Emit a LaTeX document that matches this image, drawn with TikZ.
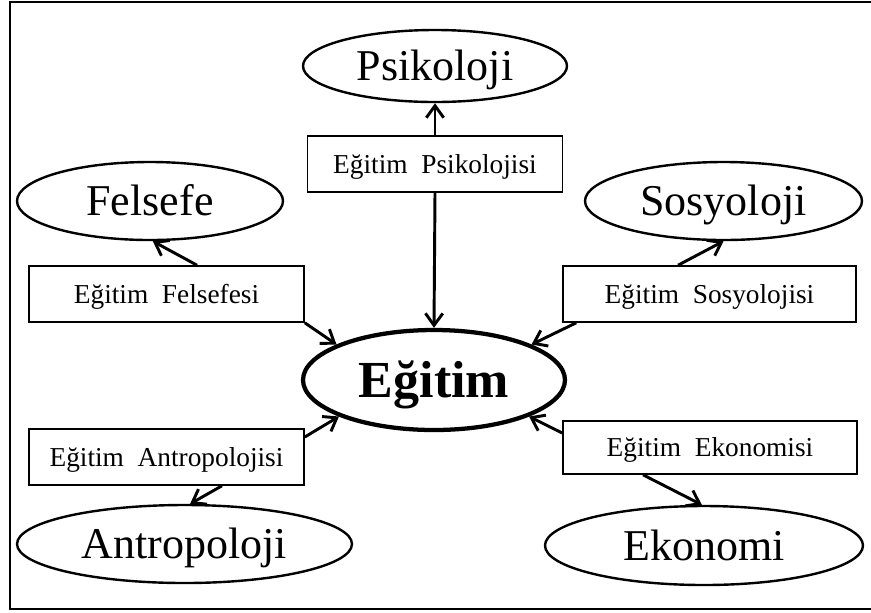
\documentclass[tikz,border=0pt]{standalone}
\usepackage{fontspec}
\setmainfont{Liberation Serif}
\usetikzlibrary{shapes.geometric,arrows.meta}
\tikzset{
  field/.style={ellipse,draw,line width=1.8pt,inner sep=0pt,text height=21.8pt,text depth=0pt,font=\fontsize{33}{36}\selectfont},
  core/.style={ellipse,draw,line width=3.2pt,inner sep=0pt,text height=25.7pt,text depth=0pt,font=\bfseries\fontsize{39}{42}\selectfont},
  subbox/.style={rectangle,draw,line width=1.2pt,inner sep=0pt,fill=white,text height=13.5pt,text depth=0pt,font=\fontsize{20.5}{23}\selectfont},
  link/.style={line width=2.2pt,-{Straight Barb[length=9pt,width=13pt,line width=2.2pt]}}
}
\newcommand{\gap}{\hspace{0.5em}}
\begin{document}
\begin{tikzpicture}[x=0.75pt,y=-0.75pt]
\useasboundingbox (0,0) rectangle (871,612);
\clip (0,0) rectangle (871,612);
\fill[white] (0,0) rectangle (871,612);
\draw[line width=2.2pt] (10,2) rectangle (900,609);

\node[field,minimum width=198pt,minimum height=54pt] (ps) at (435,66) {Psikoloji};
\node[subbox,minimum width=191.25pt,minimum height=42pt] (pb) at (435,164) {Eğitim\gap Psikolojisi};

\node[field,minimum width=199.5pt,minimum height=58.5pt] (fe) at (150,201) {Felsefe};
\node[subbox,minimum width=206.25pt,minimum height=42pt] (fb) at (166.5,294) {Eğitim\gap Felsefesi};

\node[field,minimum width=207.75pt,minimum height=58.5pt] (so) at (723.5,201) {Sosyoloji};
\node[subbox,minimum width=219.75pt,minimum height=42pt] (sb) at (709.5,294) {Eğitim\gap Sosyolojisi};

\node[core,minimum width=196.5pt,minimum height=75pt] (eg) at (434,380) {Eğitim};

\node[subbox,minimum width=206.25pt,minimum height=42pt] (ab) at (166.5,457) {Eğitim\gap Antropolojisi};
\node[field,minimum width=251.25pt,minimum height=58.5pt] (an) at (184.5,544) {Antropoloji};

\node[subbox,minimum width=220.5pt,minimum height=39.75pt] (kb) at (710,447.5) {Eğitim\gap Ekonomisi};
\node[field,minimum width=238.5pt,minimum height=59.25pt] (ek) at (704,545.5) {Ekonomi};

\draw[link] (pb.north) -- (ps.south);
\draw[link] (pb.south) -- (eg.north);
\draw[link] ([xshift=22.9pt]fb.north) -- (fe.-86);
\draw[link] (fb.south east) -- (eg.160);
\draw[link] ([xshift=-23.6pt]sb.north) -- (so.south);
\draw[link] ([xshift=10.5pt]sb.south west) -- (eg.20);
\draw[link] ([yshift=15pt]ab.east) -- (eg.201);
\draw[link] ([xshift=41.6pt]ab.south) -- (an.82);
\draw[link] ([yshift=10.9pt]kb.west) -- (eg.-21);
\draw[link] ([xshift=-50.25pt]kb.south) -- (ek.93);
\end{tikzpicture}
\end{document}
